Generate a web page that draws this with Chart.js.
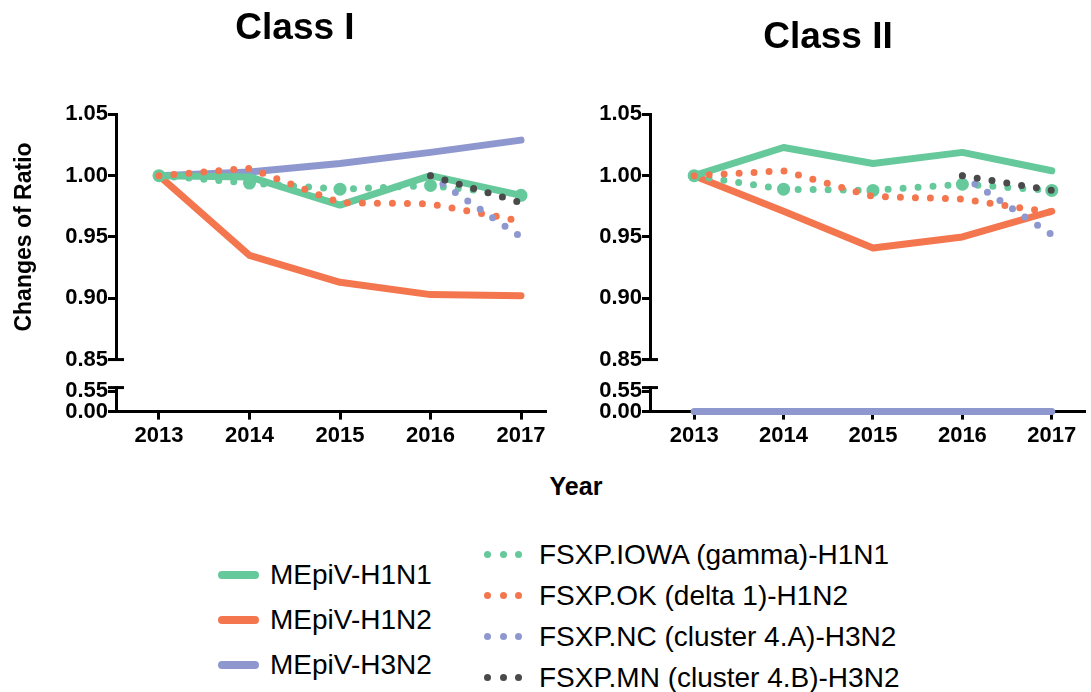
<!DOCTYPE html>
<html>
<head>
<meta charset="utf-8">
<script src="https://cdn.jsdelivr.net/npm/chart.js@4.4.1/dist/chart.umd.min.js"></script>
<style>
  body { margin: 0; background: #fff; font-family: "Liberation Sans", Arial, sans-serif; }
  #wrap { position: relative; width: 1091px; height: 692px; overflow: hidden; }
  canvas { position: absolute; top: 0; }
  #c1 { left: 0; }
  #c2 { left: 565px; }
  #xTitle { position: absolute; left: 476px; width: 200px; top: 472px; text-align: center;
            font-weight: bold; font-size: 25px; color: #000; }
  .legend { position: absolute; font-size: 28px; color: #000; }
  .legend .row { display: flex; align-items: center; white-space: nowrap; }
  #legLeft { left: 218px; top: 552px; }
  #legLeft .row { height: 45px; }
  #legRight { left: 484px; top: 534px; }
  #legRight .row { height: 41px; }
  .sw-line { width: 41px; height: 8px; border-radius: 4px; margin-right: 11px; }
  .sw-dots { display: flex; width: 38px; margin-right: 17px; justify-content: space-between; }
  .sw-dots span { width: 7px; height: 7px; border-radius: 50%; }
</style>
</head>
<body>
<div id="wrap">
  <canvas id="c1" width="590" height="470"></canvas>
  <canvas id="c2" width="526" height="470"></canvas>
  <div id="xTitle">Year</div>
  <div class="legend" id="legLeft"></div>
  <div class="legend" id="legRight"></div>
</div>
<script>
const years = [2013, 2014, 2015, 2016, 2017];

const seriesNames = [
    'MEpiV-H1N1', 'MEpiV-H1N2', 'MEpiV-H3N2',
    'FSXP.IOWA (gamma)-H1N1', 'FSXP.OK (delta 1)-H1N2',
    'FSXP.NC (cluster 4.A)-H3N2', 'FSXP.MN (cluster 4.B)-H3N2'
];
const seriesColors = ['#66c99b', '#f4764f', '#8e98ce', '#66c99b', '#f4764f', '#8e98ce', '#4a4a4a'];
const seriesDotted = [false, false, false, true, true, true, true];

// Class I
const class1H1N1 = [1.000, 0.999, 0.976, 1.000, 0.984];
const class1H1N2 = [1.000, 0.935, 0.913, 0.903, 0.902];
const class1H3N2 = [1.000, 1.003, 1.010, 1.019, 1.029];
const class1Iowa = [1.000, 0.994, 0.989, 0.992, 0.984];
const class1Ok   = [1.000, 1.006, 0.978, 0.977, 0.963];
const class1Nc   = [null, null, null, 1.000, 0.950];
const class1Mn   = [null, null, null, 1.000, 0.978];

// Class II
const class2H1N1 = [1.000, 1.023, 1.010, 1.019, 1.004];
const class2H1N2 = [1.000, 0.971, 0.941, 0.950, 0.971];
const class2H3N2 = [0, 0, 0, 0, 0];
const class2Iowa = [1.000, 0.989, 0.988, 0.993, 0.988];
const class2Ok   = [1.000, 1.004, 0.983, 0.981, 0.970];
const class2Nc   = [null, null, null, 1.000, 0.952];
const class2Mn   = [null, null, null, 1.000, 0.988];

const xTicks = years;
const yTicksUpper = [0.85, 0.90, 0.95, 1.00, 1.05];
const yTicksLower = [0, 0.55];

Chart.defaults.font.family = "'Liberation Sans', Arial, sans-serif";
Chart.defaults.color = '#000';

const tickFont = { size: 22, weight: 'bold' };

function buildDatasets(seriesValues) {
    return seriesValues.map((values, i) => {
        const dotted = seriesDotted[i];
        const low = values.every(v => v === null || v < 0.85);
        return {
            label: seriesNames[i],
            data: years.map((yr, j) => ({ x: yr, y: values[j] })),
            borderColor: seriesColors[i],
            backgroundColor: seriesColors[i],
            borderWidth: 7,
            borderDash: dotted ? [0, 15] : [],
            borderCapStyle: 'round',
            borderJoinStyle: 'round',
            pointRadius: i === 3 ? 6.5 : 0,
            pointBorderWidth: 0,
            pointHoverRadius: 0,
            tension: 0,
            fill: false,
            clip: 10,
            yAxisID: low ? 'yLow' : 'yTop',
            order: dotted ? 7 - i : 10
        };
    });
}

// little caps at the two ends of the axis break
const breakCaps = {
    id: 'breakCaps',
    afterDraw(chart) {
        const top = chart.scales.yTop;
        const low = chart.scales.yLow;
        const x = top.right;
        const ctx = chart.ctx;
        ctx.save();
        ctx.strokeStyle = '#000';
        ctx.lineWidth = 3;
        [top.getPixelForValue(top.min), low.getPixelForValue(low.max)].forEach(y => {
            ctx.beginPath();
            ctx.moveTo(x - 8, y);
            ctx.lineTo(x + 8, y);
            ctx.stroke();
        });
        ctx.restore();
    }
};

function makeScales(xMin, xMax, axisWidth, withTitle) {
    const grid = { drawOnChartArea: false, tickLength: 8, lineWidth: 3, color: '#000' };
    const border = { color: '#000', width: 3 };
    return {
        x: {
            type: 'linear', min: xMin, max: xMax,
            afterBuildTicks: s => { s.ticks = xTicks.map(v => ({ value: v })); },
            ticks: { font: tickFont, color: '#000', padding: 3, callback: v => String(v) },
            grid, border
        },
        yTop: {
            type: 'linear', position: 'left', stack: 'v', stackWeight: 245, weight: 2,
            min: 0.85, max: 1.05,
            afterBuildTicks: s => { s.ticks = yTicksUpper.map(v => ({ value: v })); },
            afterFit: s => { s.width = axisWidth; },
            ticks: { font: tickFont, color: '#000', padding: 0, autoSkip: false, callback: v => v.toFixed(2) },
            grid, border,
            title: {
                display: withTitle, text: 'Changes of Ratio', color: '#000',
                font: { size: 23, weight: 'bold' }, padding: { top: -34, bottom: 60 }
            }
        },
        yGap: {
            type: 'linear', position: 'left', stack: 'v', stackWeight: 28, weight: 1,
            ticks: { display: false }, grid: { display: false }, border: { display: false }
        },
        yLow: {
            type: 'linear', position: 'left', stack: 'v', stackWeight: 24, weight: 0,
            min: 0, max: 0.65,
            afterBuildTicks: s => { s.ticks = yTicksLower.map(v => ({ value: v })); },
            ticks: { font: tickFont, color: '#000', padding: 0, autoSkip: false, callback: v => v.toFixed(2) },
            grid, border
        }
    };
}

function makeChart(canvasId, title, titlePad, seriesValues, xMin, xMax, pad, axisWidth, withTitle) {
    return new Chart(document.getElementById(canvasId), {
        type: 'line',
        data: { datasets: buildDatasets(seriesValues) },
        options: {
            responsive: false,
            animation: false,
            layout: { padding: pad },
            plugins: {
                legend: { display: false },
                tooltip: { enabled: false },
                title: {
                    display: true, text: title, color: '#000',
                    font: { size: 37, weight: 'bold' }, padding: titlePad
                }
            },
            scales: makeScales(xMin, xMax, axisWidth, withTitle)
        },
        plugins: [breakCaps]
    });
}

makeChart('c1', 'Class I', { top: 7, bottom: 63 },
    [class1H1N1, class1H1N2, class1H3N2, class1Iowa, class1Ok, class1Nc, class1Mn],
    2012.525, 2017.265, { left: 45, right: 45, top: 0, bottom: 18 }, 71, true);

makeChart('c2', 'Class II', { top: 16, bottom: 54 },
    [class2H1N1, class2H1N2, class2H3N2, class2Iowa, class2Ok, class2Nc, class2Mn],
    2012.506, 2017.366, { left: 3, right: 3, top: 0, bottom: 18 }, 82, false);

// legend in two columns: solid series on the left, dotted on the right
const legLeft = document.getElementById('legLeft');
const legRight = document.getElementById('legRight');
seriesNames.forEach((name, i) => {
    const row = document.createElement('div');
    row.className = 'row';
    const sw = document.createElement('div');
    if (seriesDotted[i]) {
        sw.className = 'sw-dots';
        for (let k = 0; k < 3; k++) {
            const d = document.createElement('span');
            d.style.background = seriesColors[i];
            sw.appendChild(d);
        }
    } else {
        sw.className = 'sw-line';
        sw.style.background = seriesColors[i];
    }
    row.appendChild(sw);
    const txt = document.createElement('span');
    txt.textContent = name;
    row.appendChild(txt);
    (seriesDotted[i] ? legRight : legLeft).appendChild(row);
});
</script>
</body>
</html>
